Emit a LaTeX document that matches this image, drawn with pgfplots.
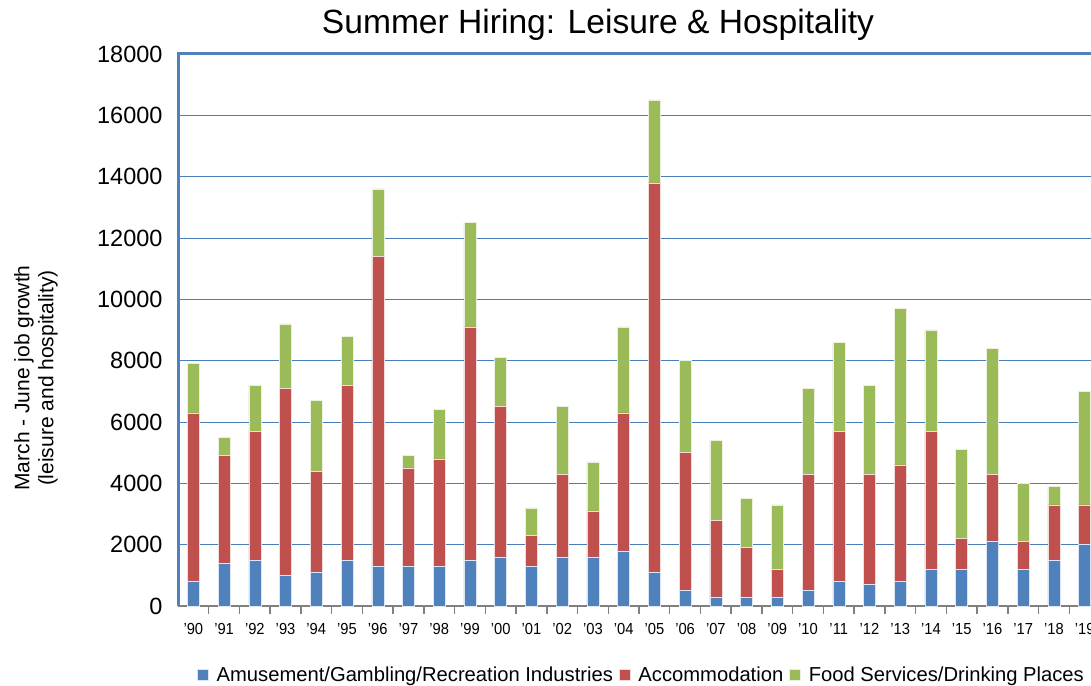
\documentclass[border=0pt]{standalone}
\usepackage{fontspec}
\setmainfont{Liberation Sans}
\usepackage{pgfplots}
\pgfplotsset{compat=1.18}
\definecolor{cblue}{HTML}{4F81BD}
\definecolor{cred}{HTML}{C0504D}
\definecolor{cgreen}{HTML}{9BBB59}
\definecolor{grid}{HTML}{4A7EBB}
\definecolor{tickgray}{HTML}{808080}
\begin{document}
\begin{tikzpicture}[x=1pt,y=1pt]
\begin{scope}
\clip (0,0) rectangle (1091,685);
\begin{axis}[
  scale only axis,
  width=922pt, height=552pt,
  at={(178pt,79pt)}, anchor=south west,
  ybar stacked, bar width=12pt,
  xmin=-0.5, xmax=29.5, ymin=0, ymax=18000,
  ytick={0,2000,...,18000},
  scaled y ticks=false,
  yticklabel style={font=\fontsize{23.5}{27}\selectfont, xshift=-12pt},
  /pgf/number format/assume math mode=true,
  /pgf/number format/1000 sep={},
  xtick={0,...,29},
  xticklabels={'90,'91,'92,'93,'94,'95,'96,'97,'98,'99,'00,'01,'02,'03,'04,'05,'06,'07,'08,'09,'10,'11,'12,'13,'14,'15,'16,'17,'18,'19},
  xticklabel style={font=\fontsize{16}{19}\selectfont, xscale=0.92, yshift=-14pt},
  major tick length=0pt,
  ymajorgrids, major grid style={draw=grid, line width=0.9pt},
  axis line style={draw=none},
  ylabel={March - June job growth\\(leisure and hospitality)},
  ylabel style={font=\fontsize{21}{24}\selectfont, align=center, at={(axis description cs:-0.154,0.413)}, anchor=center},
  legend style={at={(axis description cs:0.0173,-0.125)}, anchor=west, draw=none, font=\fontsize{20.2}{24}\selectfont, legend columns=3, column sep=6pt, /tikz/every even column/.append style={column sep=4pt}},
  legend image code/.code={\fill[#1] (0pt,-5pt) rectangle (11pt,6pt);},
  title={Summer Hiring: Leisure \& Hospitality},
  title style={font=\fontsize{33.6}{38}\selectfont, at={(axis description cs:0.4555,1)}, anchor=south, yshift=4pt},
  clip=false,
]
\addplot[fill=cblue, draw=white!80!cblue, line width=0.5pt] coordinates {
(0,800)(1,1400)(2,1500)(3,1000)(4,1100)(5,1500)(6,1300)(7,1300)(8,1300)(9,1500)
(10,1600)(11,1300)(12,1600)(13,1600)(14,1800)(15,1100)(16,500)(17,300)(18,300)(19,300)
(20,500)(21,800)(22,700)(23,800)(24,1200)(25,1200)(26,2100)(27,1200)(28,1500)(29,2000)};
\addplot[fill=cred, draw=white!80!cred, line width=0.5pt] coordinates {
(0,5500)(1,3500)(2,4200)(3,6100)(4,3300)(5,5700)(6,10100)(7,3200)(8,3500)(9,7600)
(10,4900)(11,1000)(12,2700)(13,1500)(14,4500)(15,12700)(16,4500)(17,2500)(18,1600)(19,900)
(20,3800)(21,4900)(22,3600)(23,3800)(24,4500)(25,1000)(26,2200)(27,900)(28,1800)(29,1300)};
\addplot[fill=cgreen, draw=white!80!cgreen, line width=0.5pt] coordinates {
(0,1600)(1,600)(2,1500)(3,2100)(4,2300)(5,1600)(6,2200)(7,400)(8,1600)(9,3400)
(10,1600)(11,900)(12,2200)(13,1600)(14,2800)(15,2700)(16,3000)(17,2600)(18,1600)(19,2100)
(20,2800)(21,2900)(22,2900)(23,5100)(24,3300)(25,2900)(26,4100)(27,1900)(28,600)(29,3700)};
\legend{Amusement/Gambling/Recreation Industries,Accommodation,Food Services/Drinking Places}
\draw[tickgray, line width=1.5pt] (axis cs:-0.5,0) -- (axis cs:29.5,0);
\pgfplotsinvokeforeach{0,...,29}{
  \draw[tickgray, line width=1.5pt] (axis cs:#1.5,0) -- ++(0pt,-8pt);
}
\draw[cblue, line width=3pt] (axis cs:-0.5,0) -- (axis cs:-0.5,18000) -- (axis cs:29.5,18000);
\end{axis}
\end{scope}
\pgfresetboundingbox
\useasboundingbox (0,0) rectangle (1091,685);
\end{tikzpicture}
\end{document}
